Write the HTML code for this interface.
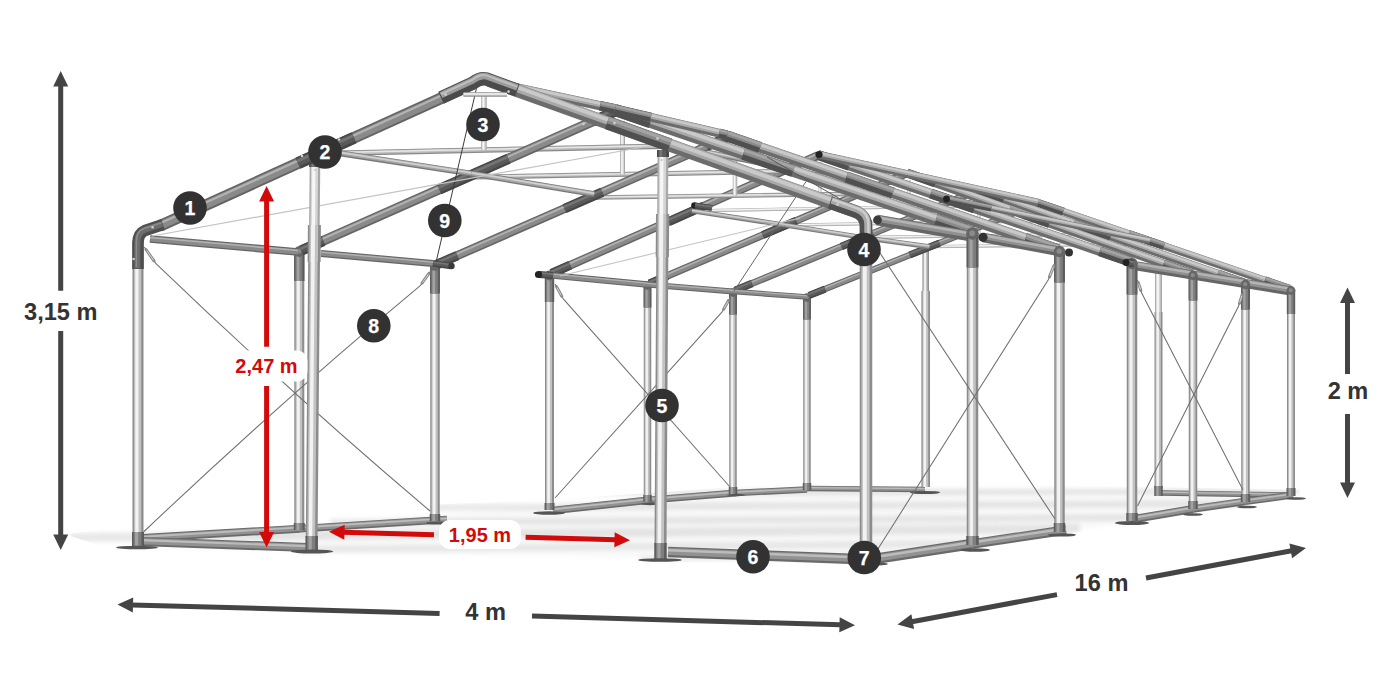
<!DOCTYPE html>
<html lang="pl">
<head>
<meta charset="utf-8">
<title>Schemat konstrukcji namiotu 4 m x 16 m</title>
<style>
html,body{margin:0;padding:0;background:#fff;}
body{width:1400px;height:700px;overflow:hidden;}
svg{display:block;}
svg text{font-family:"Liberation Sans",sans-serif;font-weight:700;}
</style>
</head>
<body>
<svg width="1400" height="700" viewBox="0 0 1400 700">
<rect width="1400" height="700" fill="#ffffff"/>
<defs><filter id="fb" x="-5%" y="-20%" width="110%" height="140%"><feGaussianBlur stdDeviation="2.2"/></filter><clipPath id="fc"><polygon points="64,534 140,526 447,504 549,500 807,482 925,483 1157,487 1300,490 1300,500 1140,524 1066,534 870,566 655,562 320,556 120,552"/></clipPath></defs>
<g clip-path="url(#fc)"><g filter="url(#fb)" fill="#000">
<polygon points="120,548 447,514 549,506 807,487 1295,493 1135,521 870,562 320,552" opacity="0.025"/>
<polygon points="520,490 1300,488 1300,494 520,496" opacity="0.09"/>
<polygon points="430,504 1250,500 1250,507 430,511" opacity="0.085"/>
<polygon points="330,519 1140,514 1140,521 330,526" opacity="0.085"/>
<polygon points="70,533 1080,524 1080,533 70,542" opacity="0.09"/>
<polygon points="300,546 980,540 980,547 300,553" opacity="0.08"/>
<polygon points="640,556 900,552 900,558 640,562" opacity="0.07"/>
</g></g>
<line x1="807" y1="488.5" x2="925" y2="489.5" stroke="#6a6a6a" stroke-width="5.5" stroke-linecap="butt"/>
<line x1="807" y1="488.2" x2="925" y2="489.2" stroke="#929292" stroke-width="3.7" stroke-linecap="butt"/>
<line x1="807" y1="487.6" x2="925" y2="488.6" stroke="#bcbcbc" stroke-width="1.3" stroke-linecap="butt"/>
<line x1="1160" y1="493" x2="1291" y2="495" stroke="#6a6a6a" stroke-width="5.5" stroke-linecap="butt"/>
<line x1="1160" y1="492.7" x2="1291" y2="494.7" stroke="#929292" stroke-width="3.7" stroke-linecap="butt"/>
<line x1="1160" y1="492.1" x2="1291" y2="494.1" stroke="#bcbcbc" stroke-width="1.3" stroke-linecap="butt"/>
<line x1="925.7" y1="248" x2="925.7" y2="487" stroke="#8c8c8c" stroke-width="6.5" stroke-linecap="butt"/>
<line x1="925.4" y1="248" x2="925.4" y2="487" stroke="#c2c2c2" stroke-width="4.3" stroke-linecap="butt"/>
<line x1="925.1" y1="248" x2="925.1" y2="487" stroke="#f2f2f2" stroke-width="1.9" stroke-linecap="butt"/>
<line x1="925.7" y1="291" x2="925.7" y2="487" stroke="#8c8c8c" stroke-width="8.6" stroke-linecap="butt"/>
<line x1="925.4" y1="291" x2="925.4" y2="487" stroke="#c2c2c2" stroke-width="5.7" stroke-linecap="butt"/>
<line x1="924.8" y1="291" x2="924.8" y2="487" stroke="#f2f2f2" stroke-width="2.6" stroke-linecap="butt"/>
<line x1="1158.5" y1="272" x2="1158.5" y2="488" stroke="#a8a8a8" stroke-width="7" stroke-linecap="butt"/>
<line x1="1158.2" y1="272" x2="1158.2" y2="488" stroke="#d6d6d6" stroke-width="4.6" stroke-linecap="butt"/>
<line x1="1157.8" y1="272" x2="1157.8" y2="488" stroke="#f6f6f6" stroke-width="2.1" stroke-linecap="butt"/>
<line x1="1158.5" y1="312" x2="1158.5" y2="488" stroke="#8c8c8c" stroke-width="8" stroke-linecap="butt"/>
<line x1="1158.2" y1="312" x2="1158.2" y2="488" stroke="#c2c2c2" stroke-width="5.3" stroke-linecap="butt"/>
<line x1="1157.7" y1="312" x2="1157.7" y2="488" stroke="#f2f2f2" stroke-width="2.4" stroke-linecap="butt"/>
<ellipse cx="925" cy="492.5" rx="15" ry="1.6" fill="#555"/>
<line x1="1158.5" y1="486" x2="1158.5" y2="496" stroke="#5c5c5c" stroke-width="8.5" stroke-linecap="butt"/>
<line x1="1158.2" y1="486" x2="1158.2" y2="496" stroke="#7e7e7e" stroke-width="5.6" stroke-linecap="butt"/>
<line x1="1157.5" y1="486" x2="1157.5" y2="496" stroke="#a2a2a2" stroke-width="2.2" stroke-linecap="butt"/>
<line x1="553" y1="510.5" x2="650" y2="500" stroke="#6a6a6a" stroke-width="7.5" stroke-linecap="butt"/>
<line x1="553" y1="510.1" x2="650" y2="499.6" stroke="#929292" stroke-width="5.1" stroke-linecap="butt"/>
<line x1="552.9" y1="509.3" x2="649.9" y2="498.8" stroke="#bcbcbc" stroke-width="1.8" stroke-linecap="butt"/>
<line x1="650" y1="500" x2="736" y2="493" stroke="#6a6a6a" stroke-width="7" stroke-linecap="butt"/>
<line x1="650" y1="499.7" x2="736" y2="492.7" stroke="#929292" stroke-width="4.8" stroke-linecap="butt"/>
<line x1="649.9" y1="498.9" x2="735.9" y2="491.9" stroke="#bcbcbc" stroke-width="1.7" stroke-linecap="butt"/>
<line x1="736" y1="493" x2="807" y2="489.5" stroke="#6a6a6a" stroke-width="6.5" stroke-linecap="butt"/>
<line x1="736" y1="492.7" x2="807" y2="489.2" stroke="#929292" stroke-width="4.4" stroke-linecap="butt"/>
<line x1="735.9" y1="492" x2="806.9" y2="488.5" stroke="#bcbcbc" stroke-width="1.6" stroke-linecap="butt"/>
<line x1="1137" y1="518.5" x2="1193" y2="509" stroke="#6a6a6a" stroke-width="8" stroke-linecap="butt"/>
<line x1="1136.9" y1="518.1" x2="1192.9" y2="508.6" stroke="#929292" stroke-width="5.4" stroke-linecap="butt"/>
<line x1="1136.8" y1="517.2" x2="1192.8" y2="507.7" stroke="#bcbcbc" stroke-width="1.9" stroke-linecap="butt"/>
<line x1="1193" y1="509" x2="1245" y2="501.5" stroke="#6a6a6a" stroke-width="7.5" stroke-linecap="butt"/>
<line x1="1192.9" y1="508.6" x2="1244.9" y2="501.1" stroke="#929292" stroke-width="5.1" stroke-linecap="butt"/>
<line x1="1192.8" y1="507.8" x2="1244.8" y2="500.3" stroke="#bcbcbc" stroke-width="1.8" stroke-linecap="butt"/>
<line x1="1245" y1="501.5" x2="1293" y2="495" stroke="#6a6a6a" stroke-width="7" stroke-linecap="butt"/>
<line x1="1245" y1="501.2" x2="1293" y2="494.7" stroke="#929292" stroke-width="4.8" stroke-linecap="butt"/>
<line x1="1244.8" y1="500.4" x2="1292.8" y2="493.9" stroke="#bcbcbc" stroke-width="1.7" stroke-linecap="butt"/>
<line x1="929.4" y1="246.7" x2="1158.2" y2="243.8" stroke="#a8a8a8" stroke-width="3.2" stroke-linecap="butt"/>
<line x1="929.4" y1="246.5" x2="1158.2" y2="243.7" stroke="#d6d6d6" stroke-width="2.1" stroke-linecap="butt"/>
<line x1="929.4" y1="246.3" x2="1158.2" y2="243.5" stroke="#f6f6f6" stroke-width="1" stroke-linecap="butt"/>
<line x1="1040" y1="210" x2="1040" y2="245.2" stroke="#a8a8a8" stroke-width="3" stroke-linecap="butt"/>
<line x1="1039.9" y1="210" x2="1039.9" y2="245.2" stroke="#d6d6d6" stroke-width="2" stroke-linecap="butt"/>
<line x1="1039.7" y1="210" x2="1039.7" y2="245.2" stroke="#f6f6f6" stroke-width="0.9" stroke-linecap="butt"/>
<line x1="862.3" y1="237.4" x2="1104.5" y2="234.1" stroke="#a8a8a8" stroke-width="3.2" stroke-linecap="butt"/>
<line x1="862.3" y1="237.3" x2="1104.5" y2="234" stroke="#d6d6d6" stroke-width="2.1" stroke-linecap="butt"/>
<line x1="862.3" y1="237.1" x2="1104.5" y2="233.8" stroke="#f6f6f6" stroke-width="1" stroke-linecap="butt"/>
<line x1="979" y1="197" x2="979" y2="235.8" stroke="#a8a8a8" stroke-width="3" stroke-linecap="butt"/>
<line x1="978.9" y1="197" x2="978.9" y2="235.8" stroke="#d6d6d6" stroke-width="2" stroke-linecap="butt"/>
<line x1="978.7" y1="197" x2="978.7" y2="235.8" stroke="#f6f6f6" stroke-width="0.9" stroke-linecap="butt"/>
<line x1="785" y1="225.1" x2="1042.8" y2="220.9" stroke="#a8a8a8" stroke-width="3.2" stroke-linecap="butt"/>
<line x1="785" y1="225" x2="1042.8" y2="220.8" stroke="#d6d6d6" stroke-width="2.1" stroke-linecap="butt"/>
<line x1="785" y1="224.8" x2="1042.8" y2="220.6" stroke="#f6f6f6" stroke-width="1" stroke-linecap="butt"/>
<line x1="909" y1="180" x2="909" y2="223" stroke="#a8a8a8" stroke-width="3" stroke-linecap="butt"/>
<line x1="908.9" y1="180" x2="908.9" y2="223" stroke="#d6d6d6" stroke-width="2" stroke-linecap="butt"/>
<line x1="908.7" y1="180" x2="908.7" y2="223" stroke="#f6f6f6" stroke-width="0.9" stroke-linecap="butt"/>
<line x1="691.8" y1="210.9" x2="967.1" y2="205.8" stroke="#a8a8a8" stroke-width="3.2" stroke-linecap="butt"/>
<line x1="691.8" y1="210.7" x2="967.1" y2="205.6" stroke="#d6d6d6" stroke-width="2.1" stroke-linecap="butt"/>
<line x1="691.8" y1="210.6" x2="967.1" y2="205.5" stroke="#f6f6f6" stroke-width="1" stroke-linecap="butt"/>
<line x1="820" y1="162" x2="820" y2="208.3" stroke="#a8a8a8" stroke-width="3" stroke-linecap="butt"/>
<line x1="819.9" y1="162" x2="819.9" y2="208.3" stroke="#d6d6d6" stroke-width="2" stroke-linecap="butt"/>
<line x1="819.7" y1="162" x2="819.7" y2="208.3" stroke="#f6f6f6" stroke-width="0.9" stroke-linecap="butt"/>
<line x1="807" y1="297" x2="807" y2="485" stroke="#8c8c8c" stroke-width="7.5" stroke-linecap="butt"/>
<line x1="806.7" y1="297" x2="806.7" y2="485" stroke="#c2c2c2" stroke-width="5" stroke-linecap="butt"/>
<line x1="806.2" y1="297" x2="806.2" y2="485" stroke="#f2f2f2" stroke-width="2.2" stroke-linecap="butt"/>
<line x1="807" y1="297" x2="807" y2="319.5" stroke="#5c5c5c" stroke-width="7.9" stroke-linecap="butt"/>
<line x1="806.7" y1="297" x2="806.7" y2="319.5" stroke="#7e7e7e" stroke-width="5.2" stroke-linecap="butt"/>
<line x1="806.1" y1="297" x2="806.1" y2="319.5" stroke="#a2a2a2" stroke-width="2.1" stroke-linecap="butt"/>
<circle cx="807" cy="297.5" r="4.2" fill="#666"/>
<circle cx="806.7" cy="297.2" r="1.9" fill="#8a8a8a"/>
<line x1="809" y1="295.5" x2="1038" y2="203.5" stroke="#646464" stroke-width="6.5" stroke-linecap="butt"/>
<line x1="809" y1="295.4" x2="1038" y2="203.4" stroke="#8a8a8a" stroke-width="4.5" stroke-linecap="butt"/>
<line x1="808.5" y1="294.3" x2="1037.5" y2="202.3" stroke="#b2b2b2" stroke-width="1.3" stroke-linecap="butt"/>
<line x1="809" y1="295.5" x2="825" y2="289.1" stroke="#474747" stroke-width="7.1" stroke-linecap="butt"/>
<line x1="808.8" y1="295.1" x2="824.9" y2="288.7" stroke="#5a5a5a" stroke-width="4.7" stroke-linecap="butt"/>
<line x1="808.5" y1="294.3" x2="824.6" y2="287.9" stroke="#757575" stroke-width="1.7" stroke-linecap="butt"/>
<line x1="909.8" y1="255" x2="939.5" y2="243.1" stroke="#474747" stroke-width="7.1" stroke-linecap="butt"/>
<line x1="909.6" y1="254.6" x2="939.4" y2="242.7" stroke="#5a5a5a" stroke-width="4.7" stroke-linecap="butt"/>
<line x1="909.3" y1="253.8" x2="939.1" y2="241.9" stroke="#757575" stroke-width="1.7" stroke-linecap="butt"/>
<line x1="1038" y1="203" x2="1290" y2="289" stroke="#6c6c6c" stroke-width="7.5" stroke-linecap="butt"/>
<line x1="1038.4" y1="201.8" x2="1290.4" y2="287.8" stroke="#a9a9a9" stroke-width="4.7" stroke-linecap="butt"/>
<line x1="1038.6" y1="201.3" x2="1290.6" y2="287.3" stroke="#c9c9c9" stroke-width="2.2" stroke-linecap="butt"/>
<line x1="1038" y1="203" x2="1063.2" y2="211.6" stroke="#505050" stroke-width="8.1" stroke-linecap="butt"/>
<line x1="1038.6" y1="201.2" x2="1063.8" y2="209.8" stroke="#8a8a8a" stroke-width="4.2" stroke-linecap="butt"/>
<line x1="1038.8" y1="200.7" x2="1064" y2="209.3" stroke="#a4a4a4" stroke-width="1.9" stroke-linecap="butt"/>
<line x1="1128.7" y1="234" x2="1164" y2="246" stroke="#505050" stroke-width="8.1" stroke-linecap="butt"/>
<line x1="1129.3" y1="232.2" x2="1164.6" y2="244.2" stroke="#8a8a8a" stroke-width="4.2" stroke-linecap="butt"/>
<line x1="1129.5" y1="231.7" x2="1164.8" y2="243.7" stroke="#a4a4a4" stroke-width="1.9" stroke-linecap="butt"/>
<line x1="1264.8" y1="280.4" x2="1290" y2="289" stroke="#505050" stroke-width="8.1" stroke-linecap="butt"/>
<line x1="1265.4" y1="278.6" x2="1290.6" y2="287.2" stroke="#8a8a8a" stroke-width="4.2" stroke-linecap="butt"/>
<line x1="1265.6" y1="278.1" x2="1290.8" y2="286.7" stroke="#a4a4a4" stroke-width="1.9" stroke-linecap="butt"/>
<line x1="733" y1="292" x2="733" y2="489" stroke="#8c8c8c" stroke-width="7.5" stroke-linecap="butt"/>
<line x1="732.7" y1="292" x2="732.7" y2="489" stroke="#c2c2c2" stroke-width="5" stroke-linecap="butt"/>
<line x1="732.2" y1="292" x2="732.2" y2="489" stroke="#f2f2f2" stroke-width="2.2" stroke-linecap="butt"/>
<line x1="733" y1="292" x2="733" y2="314.5" stroke="#5c5c5c" stroke-width="7.9" stroke-linecap="butt"/>
<line x1="732.7" y1="292" x2="732.7" y2="314.5" stroke="#7e7e7e" stroke-width="5.2" stroke-linecap="butt"/>
<line x1="732.1" y1="292" x2="732.1" y2="314.5" stroke="#a2a2a2" stroke-width="2.1" stroke-linecap="butt"/>
<circle cx="733" cy="292.5" r="4.2" fill="#666"/>
<circle cx="732.7" cy="292.2" r="1.9" fill="#8a8a8a"/>
<line x1="735" y1="290.5" x2="977" y2="190.5" stroke="#646464" stroke-width="7" stroke-linecap="butt"/>
<line x1="734.9" y1="290.4" x2="976.9" y2="190.4" stroke="#8a8a8a" stroke-width="4.9" stroke-linecap="butt"/>
<line x1="734.5" y1="289.2" x2="976.5" y2="189.2" stroke="#b2b2b2" stroke-width="1.4" stroke-linecap="butt"/>
<line x1="735" y1="290.5" x2="751.9" y2="283.5" stroke="#474747" stroke-width="7.6" stroke-linecap="butt"/>
<line x1="734.8" y1="290.1" x2="751.8" y2="283.1" stroke="#5a5a5a" stroke-width="5" stroke-linecap="butt"/>
<line x1="734.5" y1="289.2" x2="751.4" y2="282.2" stroke="#757575" stroke-width="1.8" stroke-linecap="butt"/>
<line x1="841.5" y1="246.5" x2="872.9" y2="233.5" stroke="#474747" stroke-width="7.6" stroke-linecap="butt"/>
<line x1="841.3" y1="246.1" x2="872.8" y2="233.1" stroke="#5a5a5a" stroke-width="5" stroke-linecap="butt"/>
<line x1="841" y1="245.2" x2="872.4" y2="232.2" stroke="#757575" stroke-width="1.8" stroke-linecap="butt"/>
<line x1="977" y1="190" x2="1244.5" y2="283" stroke="#6c6c6c" stroke-width="7.8" stroke-linecap="butt"/>
<line x1="977.4" y1="188.7" x2="1244.9" y2="281.7" stroke="#a9a9a9" stroke-width="4.8" stroke-linecap="butt"/>
<line x1="977.6" y1="188.2" x2="1245.1" y2="281.2" stroke="#c9c9c9" stroke-width="2.3" stroke-linecap="butt"/>
<line x1="977" y1="190" x2="1003.8" y2="199.3" stroke="#505050" stroke-width="8.4" stroke-linecap="butt"/>
<line x1="977.6" y1="188.2" x2="1004.4" y2="197.5" stroke="#8a8a8a" stroke-width="4.4" stroke-linecap="butt"/>
<line x1="977.8" y1="187.6" x2="1004.6" y2="196.9" stroke="#a4a4a4" stroke-width="2" stroke-linecap="butt"/>
<line x1="1073.3" y1="223.5" x2="1110.8" y2="236.5" stroke="#505050" stroke-width="8.4" stroke-linecap="butt"/>
<line x1="1073.9" y1="221.7" x2="1111.4" y2="234.7" stroke="#8a8a8a" stroke-width="4.4" stroke-linecap="butt"/>
<line x1="1074.1" y1="221.1" x2="1111.6" y2="234.1" stroke="#a4a4a4" stroke-width="2" stroke-linecap="butt"/>
<line x1="1217.8" y1="273.7" x2="1244.5" y2="283" stroke="#505050" stroke-width="8.4" stroke-linecap="butt"/>
<line x1="1218.4" y1="271.9" x2="1245.1" y2="281.2" stroke="#8a8a8a" stroke-width="4.4" stroke-linecap="butt"/>
<line x1="1218.6" y1="271.3" x2="1245.3" y2="280.6" stroke="#a4a4a4" stroke-width="2" stroke-linecap="butt"/>
<line x1="647.5" y1="285" x2="647.5" y2="497" stroke="#8c8c8c" stroke-width="7.5" stroke-linecap="butt"/>
<line x1="647.2" y1="285" x2="647.2" y2="497" stroke="#c2c2c2" stroke-width="5" stroke-linecap="butt"/>
<line x1="646.8" y1="285" x2="646.8" y2="497" stroke="#f2f2f2" stroke-width="2.2" stroke-linecap="butt"/>
<line x1="647.5" y1="285" x2="647.5" y2="307.5" stroke="#5c5c5c" stroke-width="7.9" stroke-linecap="butt"/>
<line x1="647.2" y1="285" x2="647.2" y2="307.5" stroke="#7e7e7e" stroke-width="5.2" stroke-linecap="butt"/>
<line x1="646.6" y1="285" x2="646.6" y2="307.5" stroke="#a2a2a2" stroke-width="2.1" stroke-linecap="butt"/>
<circle cx="647.5" cy="285.5" r="4.2" fill="#666"/>
<circle cx="647.2" cy="285.2" r="1.9" fill="#8a8a8a"/>
<line x1="649.5" y1="283.5" x2="907" y2="173.5" stroke="#646464" stroke-width="7.5" stroke-linecap="butt"/>
<line x1="649.4" y1="283.4" x2="906.9" y2="173.4" stroke="#8a8a8a" stroke-width="5.2" stroke-linecap="butt"/>
<line x1="648.9" y1="282.1" x2="906.4" y2="172.1" stroke="#b2b2b2" stroke-width="1.5" stroke-linecap="butt"/>
<line x1="649.5" y1="283.5" x2="667.5" y2="275.8" stroke="#474747" stroke-width="8.1" stroke-linecap="butt"/>
<line x1="649.3" y1="283.1" x2="667.3" y2="275.4" stroke="#5a5a5a" stroke-width="5.3" stroke-linecap="butt"/>
<line x1="648.9" y1="282.2" x2="667" y2="274.5" stroke="#757575" stroke-width="1.9" stroke-linecap="butt"/>
<line x1="762.8" y1="235.1" x2="796.3" y2="220.8" stroke="#474747" stroke-width="8.1" stroke-linecap="butt"/>
<line x1="762.6" y1="234.7" x2="796.1" y2="220.4" stroke="#5a5a5a" stroke-width="5.3" stroke-linecap="butt"/>
<line x1="762.2" y1="233.8" x2="795.7" y2="219.5" stroke="#757575" stroke-width="1.9" stroke-linecap="butt"/>
<line x1="907" y1="173" x2="1192" y2="274" stroke="#6c6c6c" stroke-width="8.3" stroke-linecap="butt"/>
<line x1="907.5" y1="171.7" x2="1192.5" y2="272.7" stroke="#a9a9a9" stroke-width="5.1" stroke-linecap="butt"/>
<line x1="907.7" y1="171.1" x2="1192.7" y2="272.1" stroke="#c9c9c9" stroke-width="2.5" stroke-linecap="butt"/>
<line x1="907" y1="173" x2="935.5" y2="183.1" stroke="#505050" stroke-width="8.9" stroke-linecap="butt"/>
<line x1="907.7" y1="171.1" x2="936.2" y2="181.2" stroke="#8a8a8a" stroke-width="4.6" stroke-linecap="butt"/>
<line x1="907.9" y1="170.5" x2="936.4" y2="180.6" stroke="#a4a4a4" stroke-width="2.1" stroke-linecap="butt"/>
<line x1="1009.6" y1="209.4" x2="1049.5" y2="223.5" stroke="#505050" stroke-width="8.9" stroke-linecap="butt"/>
<line x1="1010.3" y1="207.4" x2="1050.2" y2="221.6" stroke="#8a8a8a" stroke-width="4.6" stroke-linecap="butt"/>
<line x1="1010.5" y1="206.8" x2="1050.4" y2="221" stroke="#a4a4a4" stroke-width="2.1" stroke-linecap="butt"/>
<line x1="1163.5" y1="263.9" x2="1192" y2="274" stroke="#505050" stroke-width="8.9" stroke-linecap="butt"/>
<line x1="1164.2" y1="262" x2="1192.7" y2="272.1" stroke="#8a8a8a" stroke-width="4.6" stroke-linecap="butt"/>
<line x1="1164.4" y1="261.4" x2="1192.9" y2="271.5" stroke="#a4a4a4" stroke-width="2.1" stroke-linecap="butt"/>
<line x1="549.5" y1="275" x2="549.5" y2="505" stroke="#8c8c8c" stroke-width="9" stroke-linecap="butt"/>
<line x1="549.1" y1="275" x2="549.1" y2="505" stroke="#c2c2c2" stroke-width="5.9" stroke-linecap="butt"/>
<line x1="548.6" y1="275" x2="548.6" y2="505" stroke="#f2f2f2" stroke-width="2.7" stroke-linecap="butt"/>
<line x1="549.5" y1="275" x2="549.5" y2="302" stroke="#5c5c5c" stroke-width="9.4" stroke-linecap="butt"/>
<line x1="549.1" y1="275" x2="549.1" y2="302" stroke="#7e7e7e" stroke-width="6.2" stroke-linecap="butt"/>
<line x1="548.4" y1="275" x2="548.4" y2="302" stroke="#a2a2a2" stroke-width="2.4" stroke-linecap="butt"/>
<circle cx="549.5" cy="275.5" r="4.9" fill="#666"/>
<circle cx="549.2" cy="275.2" r="2.2" fill="#8a8a8a"/>
<line x1="551.5" y1="273.5" x2="818" y2="155.5" stroke="#646464" stroke-width="8.5" stroke-linecap="butt"/>
<line x1="551.4" y1="273.3" x2="817.9" y2="155.3" stroke="#8a8a8a" stroke-width="5.9" stroke-linecap="butt"/>
<line x1="550.8" y1="271.9" x2="817.3" y2="153.9" stroke="#b2b2b2" stroke-width="1.7" stroke-linecap="butt"/>
<line x1="551.5" y1="273.5" x2="570.2" y2="265.2" stroke="#474747" stroke-width="9.1" stroke-linecap="butt"/>
<line x1="551.3" y1="273" x2="569.9" y2="264.7" stroke="#5a5a5a" stroke-width="6" stroke-linecap="butt"/>
<line x1="550.8" y1="272" x2="569.5" y2="263.7" stroke="#757575" stroke-width="2.2" stroke-linecap="butt"/>
<line x1="668.8" y1="221.6" x2="703.4" y2="206.2" stroke="#474747" stroke-width="9.1" stroke-linecap="butt"/>
<line x1="668.5" y1="221.1" x2="703.2" y2="205.7" stroke="#5a5a5a" stroke-width="6" stroke-linecap="butt"/>
<line x1="668.1" y1="220.1" x2="702.7" y2="204.7" stroke="#757575" stroke-width="2.2" stroke-linecap="butt"/>
<line x1="818" y1="155" x2="1131" y2="262" stroke="#6c6c6c" stroke-width="9.3" stroke-linecap="butt"/>
<line x1="818.5" y1="153.5" x2="1131.5" y2="260.5" stroke="#a9a9a9" stroke-width="5.8" stroke-linecap="butt"/>
<line x1="818.7" y1="152.9" x2="1131.7" y2="259.9" stroke="#c9c9c9" stroke-width="2.8" stroke-linecap="butt"/>
<line x1="818" y1="155" x2="849.3" y2="165.7" stroke="#505050" stroke-width="9.9" stroke-linecap="butt"/>
<line x1="818.7" y1="152.8" x2="850" y2="163.5" stroke="#8a8a8a" stroke-width="5.1" stroke-linecap="butt"/>
<line x1="819" y1="152.2" x2="850.3" y2="162.9" stroke="#a4a4a4" stroke-width="2.4" stroke-linecap="butt"/>
<line x1="930.7" y1="193.5" x2="974.5" y2="208.5" stroke="#505050" stroke-width="9.9" stroke-linecap="butt"/>
<line x1="931.4" y1="191.4" x2="975.2" y2="206.3" stroke="#8a8a8a" stroke-width="5.1" stroke-linecap="butt"/>
<line x1="931.6" y1="190.7" x2="975.5" y2="205.7" stroke="#a4a4a4" stroke-width="2.4" stroke-linecap="butt"/>
<line x1="1099.7" y1="251.3" x2="1131" y2="262" stroke="#505050" stroke-width="9.9" stroke-linecap="butt"/>
<line x1="1100.4" y1="249.1" x2="1131.7" y2="259.8" stroke="#8a8a8a" stroke-width="5.1" stroke-linecap="butt"/>
<line x1="1100.7" y1="248.5" x2="1132" y2="259.2" stroke="#a4a4a4" stroke-width="2.4" stroke-linecap="butt"/>
<line x1="818" y1="154.5" x2="1038" y2="202.5" stroke="#6c6c6c" stroke-width="7.5" stroke-linecap="butt"/>
<line x1="818.3" y1="153.3" x2="1038.3" y2="201.3" stroke="#a9a9a9" stroke-width="4.7" stroke-linecap="butt"/>
<line x1="818.4" y1="152.7" x2="1038.4" y2="200.7" stroke="#c9c9c9" stroke-width="2.2" stroke-linecap="butt"/>
<line x1="553" y1="275.5" x2="647" y2="284.5" stroke="#646464" stroke-width="6.5" stroke-linecap="butt"/>
<line x1="553" y1="275.4" x2="647" y2="284.4" stroke="#8a8a8a" stroke-width="4.5" stroke-linecap="butt"/>
<line x1="553.1" y1="274.2" x2="647.1" y2="283.2" stroke="#b2b2b2" stroke-width="1.3" stroke-linecap="butt"/>
<line x1="647" y1="284.5" x2="733" y2="291.5" stroke="#646464" stroke-width="6" stroke-linecap="butt"/>
<line x1="647" y1="284.4" x2="733" y2="291.4" stroke="#8a8a8a" stroke-width="4.2" stroke-linecap="butt"/>
<line x1="647.1" y1="283.3" x2="733.1" y2="290.3" stroke="#b2b2b2" stroke-width="1.2" stroke-linecap="butt"/>
<line x1="733" y1="291.5" x2="807" y2="297" stroke="#646464" stroke-width="5.5" stroke-linecap="butt"/>
<line x1="733" y1="291.4" x2="807" y2="296.9" stroke="#8a8a8a" stroke-width="3.8" stroke-linecap="butt"/>
<line x1="733.1" y1="290.4" x2="807.1" y2="295.9" stroke="#b2b2b2" stroke-width="1.1" stroke-linecap="butt"/>
<line x1="691.8" y1="210.9" x2="785" y2="225.1" stroke="#787878" stroke-width="5" stroke-linecap="butt"/>
<line x1="691.9" y1="210.6" x2="785.1" y2="224.8" stroke="#a4a4a4" stroke-width="3.3" stroke-linecap="butt"/>
<line x1="691.9" y1="210.2" x2="785.1" y2="224.4" stroke="#d0d0d0" stroke-width="1.4" stroke-linecap="butt"/>
<line x1="785" y1="225.1" x2="862.3" y2="237.4" stroke="#787878" stroke-width="5" stroke-linecap="butt"/>
<line x1="785.1" y1="224.8" x2="862.4" y2="237.1" stroke="#a4a4a4" stroke-width="3.3" stroke-linecap="butt"/>
<line x1="785.1" y1="224.4" x2="862.4" y2="236.7" stroke="#d0d0d0" stroke-width="1.4" stroke-linecap="butt"/>
<line x1="862.3" y1="237.4" x2="929.4" y2="246.7" stroke="#787878" stroke-width="5" stroke-linecap="butt"/>
<line x1="862.4" y1="237.1" x2="929.5" y2="246.4" stroke="#a4a4a4" stroke-width="3.3" stroke-linecap="butt"/>
<line x1="862.4" y1="236.7" x2="929.5" y2="246" stroke="#d0d0d0" stroke-width="1.4" stroke-linecap="butt"/>
<line x1="946.5" y1="199" x2="1150" y2="241" stroke="#6c6c6c" stroke-width="6" stroke-linecap="butt"/>
<line x1="946.7" y1="198" x2="1150.2" y2="240" stroke="#a9a9a9" stroke-width="3.7" stroke-linecap="butt"/>
<line x1="946.8" y1="197.6" x2="1150.3" y2="239.6" stroke="#c9c9c9" stroke-width="1.8" stroke-linecap="butt"/>
<line x1="946.5" y1="199" x2="991.3" y2="208.2" stroke="#505050" stroke-width="6.6" stroke-linecap="butt"/>
<line x1="946.8" y1="197.5" x2="991.6" y2="206.8" stroke="#8a8a8a" stroke-width="3.4" stroke-linecap="butt"/>
<line x1="946.9" y1="197.1" x2="991.7" y2="206.3" stroke="#a4a4a4" stroke-width="1.6" stroke-linecap="butt"/>
<line x1="1137" y1="266" x2="1291" y2="291" stroke="#666666" stroke-width="9" stroke-linecap="butt"/>
<line x1="1137.2" y1="264.8" x2="1291.2" y2="289.8" stroke="#909090" stroke-width="5.6" stroke-linecap="butt"/>
<line x1="1137.3" y1="263.9" x2="1291.3" y2="288.9" stroke="#b4b4b4" stroke-width="2.3" stroke-linecap="butt"/>
<line x1="1291" y1="290" x2="1291" y2="490" stroke="#8c8c8c" stroke-width="8" stroke-linecap="butt"/>
<line x1="1290.7" y1="290" x2="1290.7" y2="490" stroke="#c2c2c2" stroke-width="5.3" stroke-linecap="butt"/>
<line x1="1290.2" y1="290" x2="1290.2" y2="490" stroke="#f2f2f2" stroke-width="2.4" stroke-linecap="butt"/>
<line x1="1291" y1="290" x2="1291" y2="314" stroke="#5c5c5c" stroke-width="8.4" stroke-linecap="butt"/>
<line x1="1290.7" y1="290" x2="1290.7" y2="314" stroke="#7e7e7e" stroke-width="5.5" stroke-linecap="butt"/>
<line x1="1290" y1="290" x2="1290" y2="314" stroke="#a2a2a2" stroke-width="2.2" stroke-linecap="butt"/>
<circle cx="1291" cy="290.5" r="4.4" fill="#666"/>
<circle cx="1290.7" cy="290.2" r="2" fill="#8a8a8a"/>
<line x1="1245.5" y1="284" x2="1245.5" y2="496" stroke="#8c8c8c" stroke-width="8.5" stroke-linecap="butt"/>
<line x1="1245.2" y1="284" x2="1245.2" y2="496" stroke="#c2c2c2" stroke-width="5.6" stroke-linecap="butt"/>
<line x1="1244.7" y1="284" x2="1244.7" y2="496" stroke="#f2f2f2" stroke-width="2.5" stroke-linecap="butt"/>
<line x1="1245.5" y1="284" x2="1245.5" y2="309.5" stroke="#5c5c5c" stroke-width="8.9" stroke-linecap="butt"/>
<line x1="1245.1" y1="284" x2="1245.1" y2="309.5" stroke="#7e7e7e" stroke-width="5.9" stroke-linecap="butt"/>
<line x1="1244.4" y1="284" x2="1244.4" y2="309.5" stroke="#a2a2a2" stroke-width="2.3" stroke-linecap="butt"/>
<circle cx="1245.5" cy="284.5" r="4.7" fill="#666"/>
<circle cx="1245.2" cy="284.2" r="2.1" fill="#8a8a8a"/>
<line x1="1193" y1="275" x2="1193" y2="503" stroke="#8c8c8c" stroke-width="8.5" stroke-linecap="butt"/>
<line x1="1192.7" y1="275" x2="1192.7" y2="503" stroke="#c2c2c2" stroke-width="5.6" stroke-linecap="butt"/>
<line x1="1192.2" y1="275" x2="1192.2" y2="503" stroke="#f2f2f2" stroke-width="2.5" stroke-linecap="butt"/>
<line x1="1193" y1="275" x2="1193" y2="300.5" stroke="#5c5c5c" stroke-width="8.9" stroke-linecap="butt"/>
<line x1="1192.6" y1="275" x2="1192.6" y2="300.5" stroke="#7e7e7e" stroke-width="5.9" stroke-linecap="butt"/>
<line x1="1191.9" y1="275" x2="1191.9" y2="300.5" stroke="#a2a2a2" stroke-width="2.3" stroke-linecap="butt"/>
<circle cx="1193" cy="275.5" r="4.7" fill="#666"/>
<circle cx="1192.7" cy="275.2" r="2.1" fill="#8a8a8a"/>
<line x1="1132" y1="263" x2="1132" y2="515" stroke="#8c8c8c" stroke-width="10.5" stroke-linecap="butt"/>
<line x1="1131.6" y1="263" x2="1131.6" y2="515" stroke="#c2c2c2" stroke-width="6.9" stroke-linecap="butt"/>
<line x1="1131" y1="263" x2="1131" y2="515" stroke="#f2f2f2" stroke-width="3.1" stroke-linecap="butt"/>
<line x1="1132" y1="263" x2="1132" y2="294.5" stroke="#5c5c5c" stroke-width="10.9" stroke-linecap="butt"/>
<line x1="1131.6" y1="263" x2="1131.6" y2="294.5" stroke="#7e7e7e" stroke-width="7.2" stroke-linecap="butt"/>
<line x1="1130.7" y1="263" x2="1130.7" y2="294.5" stroke="#a2a2a2" stroke-width="2.8" stroke-linecap="butt"/>
<circle cx="1132" cy="263.5" r="5.7" fill="#666"/>
<circle cx="1131.7" cy="263.2" r="2.6" fill="#8a8a8a"/>
<line x1="539" y1="274.5" x2="553" y2="275.5" stroke="#474747" stroke-width="7" stroke-linecap="butt"/>
<line x1="539" y1="274.1" x2="553" y2="275.1" stroke="#5a5a5a" stroke-width="4.6" stroke-linecap="butt"/>
<line x1="539.1" y1="273.2" x2="553.1" y2="274.2" stroke="#757575" stroke-width="1.7" stroke-linecap="butt"/>
<line x1="1126" y1="262.3" x2="1134" y2="263.5" stroke="#474747" stroke-width="7.5" stroke-linecap="butt"/>
<line x1="1126.1" y1="261.9" x2="1134.1" y2="263.1" stroke="#5a5a5a" stroke-width="5" stroke-linecap="butt"/>
<line x1="1126.2" y1="261" x2="1134.2" y2="262.2" stroke="#757575" stroke-width="1.8" stroke-linecap="butt"/>
<circle cx="538.5" cy="274.5" r="3.6" fill="#222"/>
<circle cx="819" cy="154.5" r="3.6" fill="#222"/>
<circle cx="1126" cy="262.5" r="3.4" fill="#222"/>
<circle cx="946.5" cy="199" r="3.4" fill="#222"/>
<circle cx="694.4" cy="205.5" r="3.2" fill="#222"/>
<line x1="695" y1="205.5" x2="712" y2="208" stroke="#474747" stroke-width="6" stroke-linecap="butt"/>
<line x1="695.1" y1="205.1" x2="712.1" y2="207.6" stroke="#5a5a5a" stroke-width="4" stroke-linecap="butt"/>
<line x1="695.2" y1="204.4" x2="712.2" y2="206.9" stroke="#757575" stroke-width="1.4" stroke-linecap="butt"/>
<line x1="549.5" y1="503" x2="549.5" y2="510" stroke="#5c5c5c" stroke-width="10" stroke-linecap="butt"/>
<line x1="549.1" y1="503" x2="549.1" y2="510" stroke="#7e7e7e" stroke-width="6.6" stroke-linecap="butt"/>
<line x1="548.3" y1="503" x2="548.3" y2="510" stroke="#a2a2a2" stroke-width="2.6" stroke-linecap="butt"/>
<line x1="1132" y1="513" x2="1132" y2="521" stroke="#5c5c5c" stroke-width="11.5" stroke-linecap="butt"/>
<line x1="1131.5" y1="513" x2="1131.5" y2="521" stroke="#7e7e7e" stroke-width="7.6" stroke-linecap="butt"/>
<line x1="1130.6" y1="513" x2="1130.6" y2="521" stroke="#a2a2a2" stroke-width="3" stroke-linecap="butt"/>
<line x1="647.5" y1="495" x2="647.5" y2="502" stroke="#5c5c5c" stroke-width="8.5" stroke-linecap="butt"/>
<line x1="647.2" y1="495" x2="647.2" y2="502" stroke="#7e7e7e" stroke-width="5.6" stroke-linecap="butt"/>
<line x1="646.5" y1="495" x2="646.5" y2="502" stroke="#a2a2a2" stroke-width="2.2" stroke-linecap="butt"/>
<line x1="1193" y1="501" x2="1193" y2="509" stroke="#5c5c5c" stroke-width="9.5" stroke-linecap="butt"/>
<line x1="1192.6" y1="501" x2="1192.6" y2="509" stroke="#7e7e7e" stroke-width="6.3" stroke-linecap="butt"/>
<line x1="1191.9" y1="501" x2="1191.9" y2="509" stroke="#a2a2a2" stroke-width="2.5" stroke-linecap="butt"/>
<line x1="733" y1="487" x2="733" y2="494" stroke="#5c5c5c" stroke-width="8.5" stroke-linecap="butt"/>
<line x1="732.7" y1="487" x2="732.7" y2="494" stroke="#7e7e7e" stroke-width="5.6" stroke-linecap="butt"/>
<line x1="732" y1="487" x2="732" y2="494" stroke="#a2a2a2" stroke-width="2.2" stroke-linecap="butt"/>
<line x1="1245.5" y1="494" x2="1245.5" y2="502" stroke="#5c5c5c" stroke-width="9.5" stroke-linecap="butt"/>
<line x1="1245.1" y1="494" x2="1245.1" y2="502" stroke="#7e7e7e" stroke-width="6.3" stroke-linecap="butt"/>
<line x1="1244.4" y1="494" x2="1244.4" y2="502" stroke="#a2a2a2" stroke-width="2.5" stroke-linecap="butt"/>
<line x1="807" y1="483" x2="807" y2="490" stroke="#5c5c5c" stroke-width="8.5" stroke-linecap="butt"/>
<line x1="806.7" y1="483" x2="806.7" y2="490" stroke="#7e7e7e" stroke-width="5.6" stroke-linecap="butt"/>
<line x1="806" y1="483" x2="806" y2="490" stroke="#a2a2a2" stroke-width="2.2" stroke-linecap="butt"/>
<line x1="1291" y1="488" x2="1291" y2="496" stroke="#5c5c5c" stroke-width="9" stroke-linecap="butt"/>
<line x1="1290.6" y1="488" x2="1290.6" y2="496" stroke="#7e7e7e" stroke-width="5.9" stroke-linecap="butt"/>
<line x1="1289.9" y1="488" x2="1289.9" y2="496" stroke="#a2a2a2" stroke-width="2.3" stroke-linecap="butt"/>
<ellipse cx="549" cy="513" rx="16" ry="1.8" fill="#555"/>
<ellipse cx="1132" cy="523" rx="17" ry="2" fill="#555"/>
<ellipse cx="650" cy="504" rx="9" ry="1.2" fill="#555"/>
<ellipse cx="736" cy="495" rx="9" ry="1.2" fill="#555"/>
<ellipse cx="1193" cy="514.5" rx="10" ry="1.3" fill="#555"/>
<ellipse cx="1247" cy="507" rx="10" ry="1.3" fill="#555"/>
<ellipse cx="1296" cy="498.5" rx="10" ry="1.3" fill="#555"/>
<path d="M555,284 L563.3,298.9 Q646.6,392.9 730,487" fill="none" stroke="#707070" stroke-width="1.05"/>
<line x1="556.5" y1="286.6" x2="561.8" y2="296.2" stroke="#8a8a8a" stroke-width="3" stroke-linecap="round"/>
<line x1="556.9" y1="287.5" x2="561.3" y2="295.4" stroke="#d8d8d8" stroke-width="1"/>
<path d="M730,298 L722.1,311.9 Q638.6,405 555,498" fill="none" stroke="#707070" stroke-width="1.05"/>
<line x1="728.5" y1="300.6" x2="723.6" y2="309.3" stroke="#8a8a8a" stroke-width="3" stroke-linecap="round"/>
<line x1="728" y1="301.5" x2="724.1" y2="308.4" stroke="#d8d8d8" stroke-width="1"/>
<path d="M1137.5,280 L1141.8,293.3 Q1192.4,391.7 1243,490" fill="none" stroke="#707070" stroke-width="1.05"/>
<line x1="1138.4" y1="282.9" x2="1140.9" y2="290.5" stroke="#8a8a8a" stroke-width="3" stroke-linecap="round"/>
<line x1="1138.7" y1="283.8" x2="1140.6" y2="289.5" stroke="#d8d8d8" stroke-width="1"/>
<path d="M1243,292 L1238.5,306.3 Q1188,406.1 1137.5,506" fill="none" stroke="#707070" stroke-width="1.05"/>
<line x1="1242.1" y1="294.9" x2="1239.4" y2="303.4" stroke="#8a8a8a" stroke-width="3" stroke-linecap="round"/>
<line x1="1241.8" y1="295.8" x2="1239.7" y2="302.5" stroke="#d8d8d8" stroke-width="1"/>
<line x1="143" y1="538" x2="300" y2="528.7" stroke="#6a6a6a" stroke-width="8" stroke-linecap="butt"/>
<line x1="143" y1="537.6" x2="300" y2="528.3" stroke="#929292" stroke-width="5.4" stroke-linecap="butt"/>
<line x1="142.9" y1="536.7" x2="299.9" y2="527.4" stroke="#bcbcbc" stroke-width="1.9" stroke-linecap="butt"/>
<line x1="300" y1="528.7" x2="447" y2="519.5" stroke="#6a6a6a" stroke-width="7.5" stroke-linecap="butt"/>
<line x1="300" y1="528.3" x2="447" y2="519.1" stroke="#929292" stroke-width="5.1" stroke-linecap="butt"/>
<line x1="299.9" y1="527.5" x2="446.9" y2="518.3" stroke="#bcbcbc" stroke-width="1.8" stroke-linecap="butt"/>
<line x1="874" y1="559" x2="972" y2="544" stroke="#6a6a6a" stroke-width="10.5" stroke-linecap="butt"/>
<line x1="873.9" y1="558.5" x2="971.9" y2="543.5" stroke="#929292" stroke-width="7.1" stroke-linecap="butt"/>
<line x1="873.7" y1="557.3" x2="971.7" y2="542.3" stroke="#bcbcbc" stroke-width="2.5" stroke-linecap="butt"/>
<line x1="972" y1="544" x2="1066" y2="530" stroke="#6a6a6a" stroke-width="9.5" stroke-linecap="butt"/>
<line x1="971.9" y1="543.5" x2="1065.9" y2="529.5" stroke="#929292" stroke-width="6.5" stroke-linecap="butt"/>
<line x1="971.8" y1="542.5" x2="1065.8" y2="528.5" stroke="#bcbcbc" stroke-width="2.3" stroke-linecap="butt"/>
<line x1="594.1" y1="197.6" x2="884.9" y2="193.6" stroke="#8a8a8a" stroke-width="4.5" stroke-linecap="butt"/>
<line x1="594.1" y1="197.4" x2="884.9" y2="193.4" stroke="#bcbcbc" stroke-width="2.9" stroke-linecap="butt"/>
<line x1="594.1" y1="197.1" x2="884.9" y2="193.1" stroke="#e6e6e6" stroke-width="1.3" stroke-linecap="butt"/>
<line x1="735" y1="147" x2="735" y2="195.6" stroke="#a8a8a8" stroke-width="4.5" stroke-linecap="butt"/>
<line x1="734.8" y1="147" x2="734.8" y2="195.6" stroke="#d6d6d6" stroke-width="3" stroke-linecap="butt"/>
<line x1="734.5" y1="147" x2="734.5" y2="195.6" stroke="#f6f6f6" stroke-width="1.3" stroke-linecap="butt"/>
<line x1="471.4" y1="177.1" x2="784.8" y2="171.4" stroke="#8a8a8a" stroke-width="5" stroke-linecap="butt"/>
<line x1="471.4" y1="176.9" x2="784.8" y2="171.2" stroke="#bcbcbc" stroke-width="3.2" stroke-linecap="butt"/>
<line x1="471.3" y1="176.5" x2="784.8" y2="170.8" stroke="#e6e6e6" stroke-width="1.4" stroke-linecap="butt"/>
<line x1="622.5" y1="121" x2="622.5" y2="174.3" stroke="#a8a8a8" stroke-width="5" stroke-linecap="butt"/>
<line x1="622.3" y1="121" x2="622.3" y2="174.3" stroke="#d6d6d6" stroke-width="3.3" stroke-linecap="butt"/>
<line x1="622" y1="121" x2="622" y2="174.3" stroke="#f6f6f6" stroke-width="1.5" stroke-linecap="butt"/>
<line x1="324.9" y1="153.5" x2="663.9" y2="146.2" stroke="#8a8a8a" stroke-width="5.5" stroke-linecap="butt"/>
<line x1="324.9" y1="153.2" x2="663.9" y2="145.9" stroke="#bcbcbc" stroke-width="3.5" stroke-linecap="butt"/>
<line x1="324.9" y1="152.8" x2="663.9" y2="145.5" stroke="#e6e6e6" stroke-width="1.5" stroke-linecap="butt"/>
<line x1="484" y1="92" x2="484" y2="149.8" stroke="#a8a8a8" stroke-width="5.5" stroke-linecap="butt"/>
<line x1="483.8" y1="92" x2="483.8" y2="149.8" stroke="#d6d6d6" stroke-width="3.6" stroke-linecap="butt"/>
<line x1="483.4" y1="92" x2="483.4" y2="149.8" stroke="#f6f6f6" stroke-width="1.6" stroke-linecap="butt"/>
<line x1="663.9" y1="143.7" x2="784.8" y2="167.9" stroke="#787878" stroke-width="5.5" stroke-linecap="butt"/>
<line x1="663.9" y1="143.3" x2="784.9" y2="167.6" stroke="#a4a4a4" stroke-width="3.6" stroke-linecap="butt"/>
<line x1="664" y1="142.9" x2="785" y2="167.1" stroke="#d0d0d0" stroke-width="1.5" stroke-linecap="butt"/>
<line x1="784.8" y1="167.9" x2="884.9" y2="190.1" stroke="#787878" stroke-width="5.5" stroke-linecap="butt"/>
<line x1="784.9" y1="167.6" x2="885" y2="189.8" stroke="#a4a4a4" stroke-width="3.6" stroke-linecap="butt"/>
<line x1="785" y1="167.1" x2="885.1" y2="189.3" stroke="#d0d0d0" stroke-width="1.5" stroke-linecap="butt"/>
<line x1="435" y1="265" x2="435" y2="516" stroke="#8c8c8c" stroke-width="9.5" stroke-linecap="butt"/>
<line x1="434.6" y1="265" x2="434.6" y2="516" stroke="#c2c2c2" stroke-width="6.3" stroke-linecap="butt"/>
<line x1="434.1" y1="265" x2="434.1" y2="516" stroke="#f2f2f2" stroke-width="2.9" stroke-linecap="butt"/>
<line x1="435" y1="265" x2="435" y2="293.5" stroke="#5c5c5c" stroke-width="9.9" stroke-linecap="butt"/>
<line x1="434.6" y1="265" x2="434.6" y2="293.5" stroke="#7e7e7e" stroke-width="6.5" stroke-linecap="butt"/>
<line x1="433.8" y1="265" x2="433.8" y2="293.5" stroke="#a2a2a2" stroke-width="2.6" stroke-linecap="butt"/>
<circle cx="435" cy="265.5" r="5.2" fill="#666"/>
<circle cx="434.7" cy="265.2" r="2.4" fill="#8a8a8a"/>
<line x1="437" y1="264.5" x2="727" y2="137.5" stroke="#646464" stroke-width="9" stroke-linecap="butt"/>
<line x1="436.9" y1="264.3" x2="726.9" y2="137.3" stroke="#8a8a8a" stroke-width="6.3" stroke-linecap="butt"/>
<line x1="436.3" y1="262.9" x2="726.3" y2="135.9" stroke="#b2b2b2" stroke-width="1.8" stroke-linecap="butt"/>
<line x1="437" y1="264.5" x2="457.3" y2="255.6" stroke="#474747" stroke-width="9.6" stroke-linecap="butt"/>
<line x1="436.8" y1="264" x2="457.1" y2="255.1" stroke="#5a5a5a" stroke-width="6.3" stroke-linecap="butt"/>
<line x1="436.3" y1="262.9" x2="456.6" y2="254" stroke="#757575" stroke-width="2.3" stroke-linecap="butt"/>
<line x1="564.6" y1="208.6" x2="602.3" y2="192.1" stroke="#474747" stroke-width="9.6" stroke-linecap="butt"/>
<line x1="564.4" y1="208.1" x2="602.1" y2="191.6" stroke="#5a5a5a" stroke-width="6.3" stroke-linecap="butt"/>
<line x1="563.9" y1="207" x2="601.6" y2="190.5" stroke="#757575" stroke-width="2.3" stroke-linecap="butt"/>
<line x1="706.7" y1="146.4" x2="727" y2="137.5" stroke="#474747" stroke-width="9.6" stroke-linecap="butt"/>
<line x1="706.5" y1="145.9" x2="726.8" y2="137" stroke="#5a5a5a" stroke-width="6.3" stroke-linecap="butt"/>
<line x1="706" y1="144.8" x2="726.3" y2="135.9" stroke="#757575" stroke-width="2.3" stroke-linecap="butt"/>
<line x1="727" y1="136" x2="1058.5" y2="250" stroke="#6c6c6c" stroke-width="10.5" stroke-linecap="butt"/>
<line x1="727.6" y1="134.3" x2="1059.1" y2="248.3" stroke="#a9a9a9" stroke-width="6.5" stroke-linecap="butt"/>
<line x1="727.8" y1="133.6" x2="1059.3" y2="247.6" stroke="#c9c9c9" stroke-width="3.1" stroke-linecap="butt"/>
<line x1="727" y1="136" x2="760.1" y2="147.4" stroke="#505050" stroke-width="11.1" stroke-linecap="butt"/>
<line x1="727.8" y1="133.6" x2="761" y2="145" stroke="#8a8a8a" stroke-width="5.8" stroke-linecap="butt"/>
<line x1="728.1" y1="132.9" x2="761.2" y2="144.3" stroke="#a4a4a4" stroke-width="2.7" stroke-linecap="butt"/>
<line x1="846.3" y1="177" x2="892.8" y2="193" stroke="#505050" stroke-width="11.1" stroke-linecap="butt"/>
<line x1="847.2" y1="174.6" x2="893.6" y2="190.6" stroke="#8a8a8a" stroke-width="5.8" stroke-linecap="butt"/>
<line x1="847.4" y1="173.9" x2="893.8" y2="189.9" stroke="#a4a4a4" stroke-width="2.7" stroke-linecap="butt"/>
<line x1="1025.3" y1="238.6" x2="1058.5" y2="250" stroke="#505050" stroke-width="11.1" stroke-linecap="butt"/>
<line x1="1026.2" y1="236.2" x2="1059.3" y2="247.6" stroke="#8a8a8a" stroke-width="5.8" stroke-linecap="butt"/>
<line x1="1026.4" y1="235.5" x2="1059.6" y2="246.9" stroke="#a4a4a4" stroke-width="2.7" stroke-linecap="butt"/>
<line x1="299.3" y1="251" x2="299.3" y2="525" stroke="#8c8c8c" stroke-width="10" stroke-linecap="butt"/>
<line x1="298.9" y1="251" x2="298.9" y2="525" stroke="#c2c2c2" stroke-width="6.6" stroke-linecap="butt"/>
<line x1="298.3" y1="251" x2="298.3" y2="525" stroke="#f2f2f2" stroke-width="3" stroke-linecap="butt"/>
<line x1="299.3" y1="251" x2="299.3" y2="281" stroke="#5c5c5c" stroke-width="10.4" stroke-linecap="butt"/>
<line x1="298.9" y1="251" x2="298.9" y2="281" stroke="#7e7e7e" stroke-width="6.9" stroke-linecap="butt"/>
<line x1="298.1" y1="251" x2="298.1" y2="281" stroke="#a2a2a2" stroke-width="2.7" stroke-linecap="butt"/>
<circle cx="299.3" cy="251.5" r="5.4" fill="#666"/>
<circle cx="299" cy="251.2" r="2.5" fill="#8a8a8a"/>
<line x1="301.3" y1="250.5" x2="615" y2="111.5" stroke="#646464" stroke-width="10" stroke-linecap="butt"/>
<line x1="301.2" y1="250.3" x2="614.9" y2="111.3" stroke="#8a8a8a" stroke-width="7" stroke-linecap="butt"/>
<line x1="300.5" y1="248.7" x2="614.2" y2="109.7" stroke="#b2b2b2" stroke-width="2" stroke-linecap="butt"/>
<line x1="301.3" y1="250.5" x2="323.3" y2="240.8" stroke="#474747" stroke-width="10.6" stroke-linecap="butt"/>
<line x1="301" y1="249.9" x2="323" y2="240.2" stroke="#5a5a5a" stroke-width="7" stroke-linecap="butt"/>
<line x1="300.5" y1="248.8" x2="322.5" y2="239" stroke="#757575" stroke-width="2.5" stroke-linecap="butt"/>
<line x1="439.3" y1="189.3" x2="508.3" y2="158.8" stroke="#474747" stroke-width="10.6" stroke-linecap="butt"/>
<line x1="439.1" y1="188.8" x2="508.1" y2="158.2" stroke="#5a5a5a" stroke-width="7" stroke-linecap="butt"/>
<line x1="438.6" y1="187.6" x2="507.6" y2="157" stroke="#757575" stroke-width="2.5" stroke-linecap="butt"/>
<line x1="593" y1="121.2" x2="615" y2="111.5" stroke="#474747" stroke-width="10.6" stroke-linecap="butt"/>
<line x1="592.8" y1="120.6" x2="614.7" y2="110.9" stroke="#5a5a5a" stroke-width="7" stroke-linecap="butt"/>
<line x1="592.3" y1="119.5" x2="614.2" y2="109.8" stroke="#757575" stroke-width="2.5" stroke-linecap="butt"/>
<line x1="615" y1="110" x2="971.5" y2="232" stroke="#6c6c6c" stroke-width="11.5" stroke-linecap="butt"/>
<line x1="615.6" y1="108.2" x2="972.1" y2="230.2" stroke="#a9a9a9" stroke-width="7.1" stroke-linecap="butt"/>
<line x1="615.9" y1="107.4" x2="972.4" y2="229.4" stroke="#c9c9c9" stroke-width="3.4" stroke-linecap="butt"/>
<line x1="615" y1="110" x2="650.6" y2="122.2" stroke="#505050" stroke-width="12.1" stroke-linecap="butt"/>
<line x1="615.9" y1="107.4" x2="651.6" y2="119.6" stroke="#8a8a8a" stroke-width="6.3" stroke-linecap="butt"/>
<line x1="616.2" y1="106.6" x2="651.8" y2="118.8" stroke="#a4a4a4" stroke-width="2.9" stroke-linecap="butt"/>
<line x1="743.3" y1="153.9" x2="793.2" y2="171" stroke="#505050" stroke-width="12.1" stroke-linecap="butt"/>
<line x1="744.2" y1="151.3" x2="794.2" y2="168.4" stroke="#8a8a8a" stroke-width="6.3" stroke-linecap="butt"/>
<line x1="744.5" y1="150.5" x2="794.4" y2="167.6" stroke="#a4a4a4" stroke-width="2.9" stroke-linecap="butt"/>
<line x1="935.9" y1="219.8" x2="971.5" y2="232" stroke="#505050" stroke-width="12.1" stroke-linecap="butt"/>
<line x1="936.8" y1="217.2" x2="972.4" y2="229.4" stroke="#8a8a8a" stroke-width="6.3" stroke-linecap="butt"/>
<line x1="937" y1="216.4" x2="972.7" y2="228.6" stroke="#a4a4a4" stroke-width="2.9" stroke-linecap="butt"/>
<line x1="324.9" y1="151" x2="471.4" y2="173.6" stroke="#787878" stroke-width="6" stroke-linecap="butt"/>
<line x1="325" y1="150.6" x2="471.4" y2="173.3" stroke="#a4a4a4" stroke-width="4" stroke-linecap="butt"/>
<line x1="325.1" y1="150.1" x2="471.5" y2="172.8" stroke="#d0d0d0" stroke-width="1.7" stroke-linecap="butt"/>
<line x1="471.4" y1="173.6" x2="594.1" y2="194.1" stroke="#787878" stroke-width="6" stroke-linecap="butt"/>
<line x1="471.4" y1="173.3" x2="594.2" y2="193.8" stroke="#a4a4a4" stroke-width="4" stroke-linecap="butt"/>
<line x1="471.5" y1="172.8" x2="594.3" y2="193.3" stroke="#d0d0d0" stroke-width="1.7" stroke-linecap="butt"/>
<line x1="150" y1="239" x2="298" y2="252" stroke="#646464" stroke-width="7.5" stroke-linecap="butt"/>
<line x1="150" y1="238.9" x2="298" y2="251.9" stroke="#8a8a8a" stroke-width="5.2" stroke-linecap="butt"/>
<line x1="150.1" y1="237.5" x2="298.1" y2="250.5" stroke="#b2b2b2" stroke-width="1.5" stroke-linecap="butt"/>
<line x1="321" y1="253.5" x2="433" y2="263.5" stroke="#646464" stroke-width="7" stroke-linecap="butt"/>
<line x1="321" y1="253.4" x2="433" y2="263.4" stroke="#8a8a8a" stroke-width="4.9" stroke-linecap="butt"/>
<line x1="321.1" y1="252.1" x2="433.1" y2="262.1" stroke="#b2b2b2" stroke-width="1.4" stroke-linecap="butt"/>
<line x1="433" y1="263.5" x2="451" y2="266" stroke="#474747" stroke-width="6.5" stroke-linecap="butt"/>
<line x1="433.1" y1="263.1" x2="451.1" y2="265.6" stroke="#5a5a5a" stroke-width="4.3" stroke-linecap="butt"/>
<line x1="433.2" y1="262.3" x2="451.2" y2="264.8" stroke="#757575" stroke-width="1.6" stroke-linecap="butt"/>
<circle cx="451.5" cy="266" r="3.2" fill="#3a3a3a"/>
<line x1="490" y1="82" x2="615" y2="109" stroke="#6c6c6c" stroke-width="9" stroke-linecap="butt"/>
<line x1="490.3" y1="80.5" x2="615.3" y2="107.5" stroke="#a9a9a9" stroke-width="5.6" stroke-linecap="butt"/>
<line x1="490.5" y1="79.9" x2="615.5" y2="106.9" stroke="#c9c9c9" stroke-width="2.7" stroke-linecap="butt"/>
<line x1="615" y1="109" x2="727" y2="135" stroke="#6c6c6c" stroke-width="8.5" stroke-linecap="butt"/>
<line x1="615.3" y1="107.6" x2="727.3" y2="133.6" stroke="#a9a9a9" stroke-width="5.3" stroke-linecap="butt"/>
<line x1="615.5" y1="107" x2="727.5" y2="133" stroke="#c9c9c9" stroke-width="2.5" stroke-linecap="butt"/>
<line x1="615" y1="109" x2="650.8" y2="117.3" stroke="#505050" stroke-width="9.1" stroke-linecap="butt"/>
<line x1="615.5" y1="107" x2="651.3" y2="115.3" stroke="#8a8a8a" stroke-width="4.7" stroke-linecap="butt"/>
<line x1="615.6" y1="106.3" x2="651.5" y2="114.7" stroke="#a4a4a4" stroke-width="2.2" stroke-linecap="butt"/>
<line x1="600" y1="105.8" x2="615" y2="109" stroke="#505050" stroke-width="9.6" stroke-linecap="butt"/>
<line x1="600.5" y1="103.6" x2="615.5" y2="106.8" stroke="#8a8a8a" stroke-width="5" stroke-linecap="butt"/>
<line x1="600.6" y1="102.9" x2="615.6" y2="106.2" stroke="#a4a4a4" stroke-width="2.3" stroke-linecap="butt"/>
<line x1="719.2" y1="133.2" x2="727" y2="135" stroke="#505050" stroke-width="9.1" stroke-linecap="butt"/>
<line x1="719.6" y1="131.1" x2="727.5" y2="133" stroke="#8a8a8a" stroke-width="4.7" stroke-linecap="butt"/>
<line x1="719.8" y1="130.5" x2="727.6" y2="132.3" stroke="#a4a4a4" stroke-width="2.2" stroke-linecap="butt"/>
<line x1="877" y1="220" x2="970" y2="236" stroke="#666666" stroke-width="10.5" stroke-linecap="butt"/>
<line x1="877.2" y1="218.6" x2="970.2" y2="234.6" stroke="#909090" stroke-width="6.5" stroke-linecap="butt"/>
<line x1="877.4" y1="217.5" x2="970.4" y2="233.5" stroke="#b4b4b4" stroke-width="2.7" stroke-linecap="butt"/>
<circle cx="877.5" cy="220" r="4.4" fill="#3c3c3c"/>
<line x1="983" y1="237.5" x2="1057" y2="251" stroke="#666666" stroke-width="9.5" stroke-linecap="butt"/>
<line x1="983.2" y1="236.2" x2="1057.2" y2="249.7" stroke="#909090" stroke-width="5.9" stroke-linecap="butt"/>
<line x1="983.4" y1="235.3" x2="1057.4" y2="248.8" stroke="#b4b4b4" stroke-width="2.5" stroke-linecap="butt"/>
<line x1="1059.5" y1="251" x2="1059.5" y2="525" stroke="#8c8c8c" stroke-width="10.5" stroke-linecap="butt"/>
<line x1="1059.1" y1="251" x2="1059.1" y2="525" stroke="#c2c2c2" stroke-width="6.9" stroke-linecap="butt"/>
<line x1="1058.5" y1="251" x2="1058.5" y2="525" stroke="#f2f2f2" stroke-width="3.1" stroke-linecap="butt"/>
<line x1="1059.5" y1="251" x2="1059.5" y2="282.5" stroke="#5c5c5c" stroke-width="10.9" stroke-linecap="butt"/>
<line x1="1059.1" y1="251" x2="1059.1" y2="282.5" stroke="#7e7e7e" stroke-width="7.2" stroke-linecap="butt"/>
<line x1="1058.2" y1="251" x2="1058.2" y2="282.5" stroke="#a2a2a2" stroke-width="2.8" stroke-linecap="butt"/>
<circle cx="1059.5" cy="251.5" r="5.7" fill="#666"/>
<circle cx="1059.2" cy="251.2" r="2.6" fill="#8a8a8a"/>
<line x1="1059.5" y1="523" x2="1059.5" y2="532" stroke="#5c5c5c" stroke-width="11.5" stroke-linecap="butt"/>
<line x1="1059" y1="523" x2="1059" y2="532" stroke="#7e7e7e" stroke-width="7.6" stroke-linecap="butt"/>
<line x1="1058.1" y1="523" x2="1058.1" y2="532" stroke="#a2a2a2" stroke-width="3" stroke-linecap="butt"/>
<line x1="435" y1="514" x2="435" y2="521" stroke="#5c5c5c" stroke-width="10.5" stroke-linecap="butt"/>
<line x1="434.6" y1="514" x2="434.6" y2="521" stroke="#7e7e7e" stroke-width="6.9" stroke-linecap="butt"/>
<line x1="433.7" y1="514" x2="433.7" y2="521" stroke="#a2a2a2" stroke-width="2.7" stroke-linecap="butt"/>
<line x1="972.5" y1="233" x2="972.5" y2="538" stroke="#8c8c8c" stroke-width="11.5" stroke-linecap="butt"/>
<line x1="972" y1="233" x2="972" y2="538" stroke="#c2c2c2" stroke-width="7.6" stroke-linecap="butt"/>
<line x1="971.4" y1="233" x2="971.4" y2="538" stroke="#f2f2f2" stroke-width="3.4" stroke-linecap="butt"/>
<line x1="972.5" y1="233" x2="972.5" y2="267.5" stroke="#5c5c5c" stroke-width="11.9" stroke-linecap="butt"/>
<line x1="972" y1="233" x2="972" y2="267.5" stroke="#7e7e7e" stroke-width="7.9" stroke-linecap="butt"/>
<line x1="971.1" y1="233" x2="971.1" y2="267.5" stroke="#a2a2a2" stroke-width="3.1" stroke-linecap="butt"/>
<circle cx="972.5" cy="233.5" r="6.2" fill="#666"/>
<circle cx="972.2" cy="233.2" r="2.9" fill="#8a8a8a"/>
<line x1="972.5" y1="536" x2="972.5" y2="545" stroke="#5c5c5c" stroke-width="12.5" stroke-linecap="butt"/>
<line x1="972" y1="536" x2="972" y2="545" stroke="#7e7e7e" stroke-width="8.2" stroke-linecap="butt"/>
<line x1="971" y1="536" x2="971" y2="545" stroke="#a2a2a2" stroke-width="3.2" stroke-linecap="butt"/>
<line x1="299.3" y1="523" x2="299.3" y2="530" stroke="#5c5c5c" stroke-width="11" stroke-linecap="butt"/>
<line x1="298.9" y1="523" x2="298.9" y2="530" stroke="#7e7e7e" stroke-width="7.3" stroke-linecap="butt"/>
<line x1="298" y1="523" x2="298" y2="530" stroke="#a2a2a2" stroke-width="2.9" stroke-linecap="butt"/>
<circle cx="1069" cy="252.5" r="4" fill="#333"/>
<circle cx="983" cy="237.3" r="4.6" fill="#333"/>
<ellipse cx="1062" cy="535" rx="14" ry="1.6" fill="#555"/>
<ellipse cx="975" cy="550" rx="15" ry="1.8" fill="#555"/>
<ellipse cx="439" cy="523" rx="13" ry="1.6" fill="#555"/>
<path d="M144.3,247 L155.7,263.4 Q292.9,395.2 430,511" fill="none" stroke="#707070" stroke-width="1.05"/>
<line x1="146" y1="249.5" x2="154" y2="260.9" stroke="#8a8a8a" stroke-width="3" stroke-linecap="round"/>
<line x1="146.6" y1="250.3" x2="153.5" y2="260.1" stroke="#d8d8d8" stroke-width="1"/>
<path d="M430.7,271 L420.3,285.7 Q281.9,400.8 143.5,532" fill="none" stroke="#707070" stroke-width="1.05"/>
<line x1="429" y1="273.4" x2="422" y2="283.2" stroke="#8a8a8a" stroke-width="3" stroke-linecap="round"/>
<line x1="428.4" y1="274.3" x2="422.6" y2="282.4" stroke="#d8d8d8" stroke-width="1"/>
<line x1="878" y1="250" x2="1055" y2="519" stroke="#707070" stroke-width="1.05"/>
<path d="M1055,263 L1048.3,279.7 Q962.2,415.9 876,552" fill="none" stroke="#707070" stroke-width="1.05"/>
<line x1="1053.9" y1="265.8" x2="1049.4" y2="276.9" stroke="#8a8a8a" stroke-width="3" stroke-linecap="round"/>
<line x1="1053.5" y1="266.7" x2="1049.8" y2="276" stroke="#d8d8d8" stroke-width="1"/>
<line x1="476.3" y1="89" x2="436.1" y2="262" stroke="#3c3c3c" stroke-width="1.0"/>
<line x1="152" y1="236" x2="660" y2="144" stroke="#c4c4c4" stroke-width="1.2"/>
<line x1="560" y1="276" x2="800" y2="218" stroke="#c4c4c4" stroke-width="1.1"/>
<line x1="767" y1="157" x2="842" y2="200" stroke="#555" stroke-width="1.0"/>
<line x1="806" y1="181.6" x2="734" y2="291" stroke="#666" stroke-width="1.0"/>
<line x1="140" y1="541.5" x2="308" y2="547.5" stroke="#6a6a6a" stroke-width="9" stroke-linecap="butt"/>
<line x1="140" y1="541.1" x2="308" y2="547.1" stroke="#929292" stroke-width="6.1" stroke-linecap="butt"/>
<line x1="140.1" y1="540.1" x2="308.1" y2="546.1" stroke="#bcbcbc" stroke-width="2.2" stroke-linecap="butt"/>
<line x1="668" y1="552" x2="856" y2="559" stroke="#6a6a6a" stroke-width="10.5" stroke-linecap="butt"/>
<line x1="668" y1="551.5" x2="856" y2="558.5" stroke="#929292" stroke-width="7.1" stroke-linecap="butt"/>
<line x1="668.1" y1="550.3" x2="856.1" y2="557.3" stroke="#bcbcbc" stroke-width="2.5" stroke-linecap="butt"/>
<line x1="315" y1="162" x2="314.4" y2="225" stroke="#a8a8a8" stroke-width="10.6" stroke-linecap="butt"/>
<line x1="314.6" y1="162" x2="314" y2="225" stroke="#d6d6d6" stroke-width="7" stroke-linecap="butt"/>
<line x1="313.9" y1="162" x2="313.4" y2="225" stroke="#f6f6f6" stroke-width="3.2" stroke-linecap="butt"/>
<line x1="314.4" y1="225" x2="311.7" y2="538" stroke="#8c8c8c" stroke-width="11.8" stroke-linecap="butt"/>
<line x1="314" y1="225" x2="311.2" y2="538" stroke="#c2c2c2" stroke-width="7.8" stroke-linecap="butt"/>
<line x1="313.3" y1="225" x2="310.5" y2="538" stroke="#f2f2f2" stroke-width="3.5" stroke-linecap="butt"/>
<line x1="314.4" y1="225" x2="314.1" y2="262" stroke="#8c8c8c" stroke-width="13" stroke-linecap="butt"/>
<line x1="313.9" y1="225" x2="313.6" y2="262" stroke="#c2c2c2" stroke-width="8.6" stroke-linecap="butt"/>
<line x1="313.1" y1="225" x2="312.8" y2="262" stroke="#f2f2f2" stroke-width="3.9" stroke-linecap="butt"/>
<line x1="315" y1="160" x2="315" y2="167" stroke="#474747" stroke-width="11.8" stroke-linecap="butt"/>
<line x1="314.3" y1="160" x2="314.2" y2="167" stroke="#5a5a5a" stroke-width="7.8" stroke-linecap="butt"/>
<line x1="312.9" y1="160" x2="312.8" y2="167" stroke="#757575" stroke-width="2.8" stroke-linecap="butt"/>
<line x1="663" y1="152" x2="662.6" y2="214" stroke="#a8a8a8" stroke-width="10.8" stroke-linecap="butt"/>
<line x1="662.6" y1="152" x2="662.2" y2="214" stroke="#d6d6d6" stroke-width="7.1" stroke-linecap="butt"/>
<line x1="661.9" y1="152" x2="661.5" y2="214" stroke="#f6f6f6" stroke-width="3.2" stroke-linecap="butt"/>
<line x1="662.6" y1="214" x2="660.5" y2="545" stroke="#8c8c8c" stroke-width="12" stroke-linecap="butt"/>
<line x1="662.1" y1="214" x2="660" y2="545" stroke="#c2c2c2" stroke-width="7.9" stroke-linecap="butt"/>
<line x1="661.4" y1="214" x2="659.3" y2="545" stroke="#f2f2f2" stroke-width="3.6" stroke-linecap="butt"/>
<line x1="662.6" y1="214" x2="662.3" y2="257" stroke="#8c8c8c" stroke-width="13.2" stroke-linecap="butt"/>
<line x1="662.1" y1="214" x2="661.8" y2="257" stroke="#c2c2c2" stroke-width="8.7" stroke-linecap="butt"/>
<line x1="661.3" y1="214" x2="661" y2="257" stroke="#f2f2f2" stroke-width="4" stroke-linecap="butt"/>
<line x1="663" y1="150" x2="663" y2="157" stroke="#474747" stroke-width="12" stroke-linecap="butt"/>
<line x1="662.3" y1="150" x2="662.2" y2="157" stroke="#5a5a5a" stroke-width="7.9" stroke-linecap="butt"/>
<line x1="660.8" y1="150" x2="660.8" y2="157" stroke="#757575" stroke-width="2.9" stroke-linecap="butt"/>
<line x1="138" y1="240" x2="138" y2="540" stroke="#8c8c8c" stroke-width="11" stroke-linecap="butt"/>
<line x1="137.6" y1="240" x2="137.6" y2="540" stroke="#c2c2c2" stroke-width="7.3" stroke-linecap="butt"/>
<line x1="136.9" y1="240" x2="136.9" y2="540" stroke="#f2f2f2" stroke-width="3.3" stroke-linecap="butt"/>
<line x1="866" y1="220" x2="866" y2="556" stroke="#8c8c8c" stroke-width="12.5" stroke-linecap="butt"/>
<line x1="865.5" y1="220" x2="865.5" y2="556" stroke="#c2c2c2" stroke-width="8.2" stroke-linecap="butt"/>
<line x1="864.8" y1="220" x2="864.8" y2="556" stroke="#f2f2f2" stroke-width="3.8" stroke-linecap="butt"/>
<line x1="160" y1="225.9" x2="475" y2="82.9" stroke="#646464" stroke-width="11.6" stroke-linecap="butt"/>
<line x1="159.9" y1="225.7" x2="474.9" y2="82.7" stroke="#8a8a8a" stroke-width="8.1" stroke-linecap="butt"/>
<line x1="159" y1="223.8" x2="474" y2="80.8" stroke="#b2b2b2" stroke-width="2.3" stroke-linecap="butt"/>
<line x1="489" y1="80.5" x2="858" y2="212.5" stroke="#6c6c6c" stroke-width="13" stroke-linecap="butt"/>
<line x1="489.7" y1="78.4" x2="858.7" y2="210.4" stroke="#a9a9a9" stroke-width="8.1" stroke-linecap="butt"/>
<line x1="490.1" y1="77.6" x2="859.1" y2="209.6" stroke="#c9c9c9" stroke-width="3.9" stroke-linecap="butt"/>
<line x1="298" y1="163.3" x2="354" y2="137.8" stroke="#474747" stroke-width="12.2" stroke-linecap="butt"/>
<line x1="297.7" y1="162.6" x2="353.7" y2="137.1" stroke="#5a5a5a" stroke-width="8.1" stroke-linecap="butt"/>
<line x1="297.1" y1="161.3" x2="353.1" y2="135.8" stroke="#757575" stroke-width="2.9" stroke-linecap="butt"/>
<line x1="607.1" y1="122.7" x2="669.8" y2="145.2" stroke="#505050" stroke-width="13.6" stroke-linecap="butt"/>
<line x1="608.1" y1="119.8" x2="670.9" y2="142.2" stroke="#8a8a8a" stroke-width="7.1" stroke-linecap="butt"/>
<line x1="608.5" y1="118.9" x2="671.2" y2="141.3" stroke="#a4a4a4" stroke-width="3.3" stroke-linecap="butt"/>
<path d="M138,269 L138,243 Q138,233.5 145,230.5 L163,224.6" fill="none" stroke="#4e4e4e" stroke-width="11.6" stroke-linejoin="round"/>
<path d="M138,269 L138,243 Q138,233.5 145,230.5 L163,224.6" transform="translate(-0.6,-0.6)" fill="none" stroke="#6c6c6c" stroke-width="6" stroke-linejoin="round"/>
<path d="M138,269 L138,243 Q138,233.5 145,230.5 L163,224.6" transform="translate(-1.6,-1.8)" fill="none" stroke="#8c8c8c" stroke-width="1.6" stroke-linejoin="round"/>
<path d="M441,97.8 L473,83 Q481.5,76.2 490,80.3 L517.4,90.3" fill="none" stroke="#4b4b4b" stroke-width="13.2" stroke-linejoin="round"/>
<path d="M441,97.8 L473,83 Q481.5,76.2 490,80.3 L517.4,90.3" transform="translate(0,-2.7)" fill="none" stroke="#9c9c9c" stroke-width="6.4" stroke-linejoin="round"/>
<path d="M441,97.8 L473,83 Q481.5,76.2 490,80.3 L517.4,90.3" transform="translate(0,-3.6)" fill="none" stroke="#bdbdbd" stroke-width="2.2" stroke-linejoin="round"/>
<path d="M830,202.5 L855,211.4 Q866,215.5 866,227 L866,238" fill="none" stroke="#505050" stroke-width="12.6" stroke-linejoin="round"/>
<path d="M830,202.5 L855,211.4 Q866,215.5 866,227 L866,238" transform="translate(1.6,-2.2)" fill="none" stroke="#a8a8a8" stroke-width="6.6" stroke-linejoin="round"/>
<path d="M830,202.5 L855,211.4 Q866,215.5 866,227 L866,238" transform="translate(2.4,-3.0)" fill="none" stroke="#cdcdcd" stroke-width="2.4" stroke-linejoin="round"/>
<line x1="463.5" y1="94.5" x2="507" y2="94.5" stroke="#8c8c8c" stroke-width="4.5" stroke-linecap="butt"/>
<line x1="463.5" y1="94.3" x2="507" y2="94.3" stroke="#c2c2c2" stroke-width="3" stroke-linecap="butt"/>
<line x1="463.5" y1="94" x2="507" y2="94" stroke="#f2f2f2" stroke-width="1.3" stroke-linecap="butt"/>
<circle cx="152.6" cy="227.3" r="1.3" fill="#cfcfcf"/>
<circle cx="133.6" cy="259" r="1.3" fill="#cfcfcf"/>
<circle cx="445.6" cy="94.6" r="1.3" fill="#cfcfcf"/>
<circle cx="508.6" cy="91.6" r="1.3" fill="#cfcfcf"/>
<circle cx="339" cy="139.5" r="1.3" fill="#cfcfcf"/>
<circle cx="302" cy="156" r="1.3" fill="#cfcfcf"/>
<circle cx="614.5" cy="123" r="1.3" fill="#cfcfcf"/>
<circle cx="657.5" cy="138.5" r="1.3" fill="#cfcfcf"/>
<circle cx="837.5" cy="204.5" r="1.3" fill="#cfcfcf"/>
<circle cx="871" cy="236" r="1.3" fill="#cfcfcf"/>
<circle cx="583.5" cy="124" r="1.3" fill="#cfcfcf"/>
<circle cx="315" cy="170" r="1.3" fill="#cfcfcf"/>
<circle cx="661.5" cy="160" r="1.3" fill="#cfcfcf"/>
<line x1="138" y1="532" x2="138" y2="547" stroke="#5c5c5c" stroke-width="12" stroke-linecap="butt"/>
<line x1="137.5" y1="532" x2="137.5" y2="547" stroke="#7e7e7e" stroke-width="7.9" stroke-linecap="butt"/>
<line x1="136.6" y1="532" x2="136.6" y2="547" stroke="#a2a2a2" stroke-width="3.1" stroke-linecap="butt"/>
<line x1="311.7" y1="536" x2="311.7" y2="550" stroke="#5c5c5c" stroke-width="12.5" stroke-linecap="butt"/>
<line x1="311.2" y1="536" x2="311.2" y2="550" stroke="#7e7e7e" stroke-width="8.2" stroke-linecap="butt"/>
<line x1="310.2" y1="536" x2="310.2" y2="550" stroke="#a2a2a2" stroke-width="3.2" stroke-linecap="butt"/>
<line x1="660.5" y1="543" x2="660.5" y2="559" stroke="#5c5c5c" stroke-width="12.5" stroke-linecap="butt"/>
<line x1="660" y1="543" x2="660" y2="559" stroke="#7e7e7e" stroke-width="8.2" stroke-linecap="butt"/>
<line x1="659" y1="543" x2="659" y2="559" stroke="#a2a2a2" stroke-width="3.2" stroke-linecap="butt"/>
<line x1="866" y1="550" x2="866" y2="560" stroke="#5c5c5c" stroke-width="13.5" stroke-linecap="butt"/>
<line x1="865.5" y1="550" x2="865.5" y2="560" stroke="#7e7e7e" stroke-width="8.9" stroke-linecap="butt"/>
<line x1="864.4" y1="550" x2="864.4" y2="560" stroke="#a2a2a2" stroke-width="3.5" stroke-linecap="butt"/>
<ellipse cx="137" cy="547.5" rx="21" ry="1.8" fill="#555"/>
<ellipse cx="312" cy="551.5" rx="21" ry="2" fill="#555"/>
<ellipse cx="660" cy="560" rx="22" ry="1.8" fill="#555"/>
<ellipse cx="868" cy="564" rx="20" ry="1.8" fill="#555"/>
<line x1="60.7" y1="85.5" x2="60.7" y2="290.8" stroke="#444444" stroke-width="5"/>
<line x1="60.7" y1="331" x2="60.7" y2="535.5" stroke="#444444" stroke-width="5"/>
<polygon points="60.7,71 53.2,86.5 68.2,86.5" fill="#444444"/>
<polygon points="60.7,550 53.2,534.5 68.2,534.5" fill="#444444"/>
<line x1="1347.5" y1="302" x2="1347.5" y2="374" stroke="#444444" stroke-width="5"/>
<line x1="1347.5" y1="414" x2="1347.5" y2="483.5" stroke="#444444" stroke-width="5"/>
<polygon points="1347.5,287.5 1340,303 1355,303" fill="#444444"/>
<polygon points="1347.5,498 1340,482.5 1355,482.5" fill="#444444"/>
<line x1="132" y1="604.9" x2="439.6" y2="613.5" stroke="#444444" stroke-width="5"/>
<line x1="532" y1="616.1" x2="840.5" y2="624.8" stroke="#444444" stroke-width="5"/>
<polygon points="117.5,604.5 132.8,612.4 133.2,597.4" fill="#444444"/>
<polygon points="855,625.2 839.3,632.3 839.7,617.3" fill="#444444"/>
<line x1="911.8" y1="621.8" x2="1057" y2="594.6" stroke="#444444" stroke-width="5"/>
<line x1="1146" y1="578" x2="1291.7" y2="550.7" stroke="#444444" stroke-width="5"/>
<polygon points="897.5,624.5 914.1,629 911.4,614.3" fill="#444444"/>
<polygon points="1306,548 1292.1,558.2 1289.4,543.5" fill="#444444"/>
<line x1="266.6" y1="200.5" x2="266.6" y2="346.7" stroke="#d20a0a" stroke-width="5"/>
<line x1="266.6" y1="386" x2="266.6" y2="533" stroke="#d20a0a" stroke-width="5"/>
<polygon points="266.6,186 259.1,201.5 274.1,201.5" fill="#d20a0a"/>
<polygon points="266.6,547.5 259.1,532 274.1,532" fill="#d20a0a"/>
<line x1="343.5" y1="532.2" x2="434" y2="534.7" stroke="#d20a0a" stroke-width="5"/>
<line x1="525.6" y1="537.3" x2="615.5" y2="539.8" stroke="#d20a0a" stroke-width="5"/>
<polygon points="329,531.8 344.3,539.7 344.7,524.7" fill="#d20a0a"/>
<polygon points="630,540.2 614.3,547.3 614.7,532.3" fill="#d20a0a"/>
<rect x="16" y="296.6" width="89.5" height="30" rx="11" fill="#fff"/>
<text x="60.8" y="320" font-size="23.6" fill="#333" text-anchor="middle">3,15 m</text>
<rect x="1316" y="375.8" width="64" height="30" rx="11" fill="#fff"/>
<text x="1348" y="399.2" font-size="23.6" fill="#333" text-anchor="middle">2 m</text>
<rect x="453.2" y="596.8" width="65" height="30" rx="11" fill="#fff"/>
<text x="485.7" y="620.2" font-size="23.6" fill="#333" text-anchor="middle">4 m</text>
<rect x="1065.5" y="567" width="72" height="31" rx="11" fill="#fff"/>
<text x="1101.5" y="590.9" font-size="23.6" fill="#333" text-anchor="middle">16 m</text>
<rect x="225.5" y="350.5" width="82" height="31" rx="11" fill="#fff"/>
<text x="266.5" y="373.2" font-size="20" fill="#d20a0a" text-anchor="middle">2,47 m</text>
<rect x="439" y="520" width="82" height="29" rx="11" fill="#fff"/>
<text x="480" y="541.7" font-size="20" fill="#d20a0a" text-anchor="middle">1,95 m</text>
<circle cx="190" cy="208" r="16.8" fill="#323232"/>
<text x="190" y="215" font-size="19.5" fill="#fff" stroke="#fff" stroke-width="0.25" text-anchor="middle">1</text>
<circle cx="325" cy="152" r="16.8" fill="#323232"/>
<text x="325" y="159" font-size="19.5" fill="#fff" stroke="#fff" stroke-width="0.25" text-anchor="middle">2</text>
<circle cx="483" cy="124.5" r="16.8" fill="#323232"/>
<text x="483" y="131.5" font-size="19.5" fill="#fff" stroke="#fff" stroke-width="0.25" text-anchor="middle">3</text>
<circle cx="864" cy="249.5" r="16.8" fill="#323232"/>
<text x="864" y="256.5" font-size="19.5" fill="#fff" stroke="#fff" stroke-width="0.25" text-anchor="middle">4</text>
<circle cx="662" cy="405.5" r="16.8" fill="#323232"/>
<text x="662" y="412.5" font-size="19.5" fill="#fff" stroke="#fff" stroke-width="0.25" text-anchor="middle">5</text>
<circle cx="753" cy="556.8" r="16.8" fill="#323232"/>
<text x="753" y="563.8" font-size="19.5" fill="#fff" stroke="#fff" stroke-width="0.25" text-anchor="middle">6</text>
<circle cx="864.3" cy="557.5" r="16.8" fill="#323232"/>
<text x="864.3" y="564.5" font-size="19.5" fill="#fff" stroke="#fff" stroke-width="0.25" text-anchor="middle">7</text>
<circle cx="373.8" cy="325.8" r="16.8" fill="#323232"/>
<text x="373.8" y="332.8" font-size="19.5" fill="#fff" stroke="#fff" stroke-width="0.25" text-anchor="middle">8</text>
<circle cx="444.8" cy="220.5" r="16.8" fill="#323232"/>
<text x="444.8" y="227.5" font-size="19.5" fill="#fff" stroke="#fff" stroke-width="0.25" text-anchor="middle">9</text>
</svg>
</body>
</html>
